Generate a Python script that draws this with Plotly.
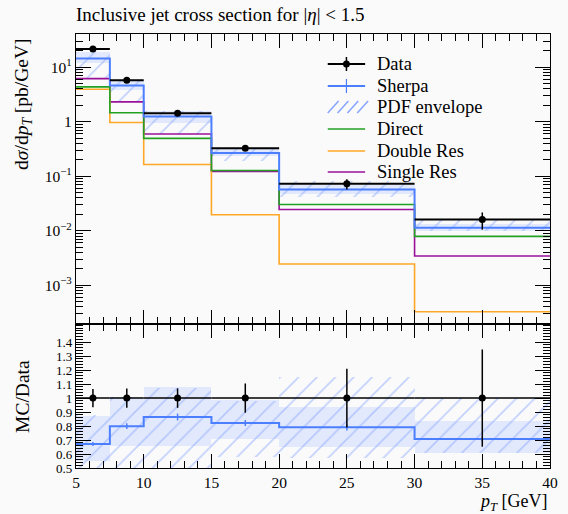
import plotly.graph_objects as go
import numpy as np

# ---------------- data ----------------
edges = [5, 7.5, 10, 15, 20, 30, 40]
data = [21.6, 5.78, 1.44, 0.325, 0.0726, 0.0161]
data_err = [1.40, 0.40, 0.10, 0.034, 0.0153, 0.0056]
sherpa = [14.5, 4.62, 1.245, 0.267, 0.0574, 0.0114]
sherpa_err = [0.30, 0.12, 0.035, 0.007, 0.0016, 0.0003]
band_lo = [11.9, 3.81, 0.950, 0.231, 0.0472, 0.00982]
band_hi = [18.8, 5.84, 1.555, 0.320, 0.0682, 0.01352]
pdf_lo = [6.48, 2.31, 0.590, 0.187, 0.0417, 0.00982]
pdf_hi = [19.0, 5.84, 1.548, 0.3185, 0.0835, 0.0161]
direct = [4.36, 1.46, 0.495, 0.128, 0.0304, 0.0079]
double_res = [3.96, 0.97, 0.164, 0.0197, 0.00246, 0.000327]
single_res = [6.19, 2.32, 0.596, 0.122, 0.0246, 0.00345]

legend_labels = ["Data", "Sherpa", "PDF envelope", "Direct", "Double Res", "Single Res"]

# ---------------- styles ----------------
C_DATA = "black"
C_SHERPA = "#4c7fff"
C_HATCH = "#86a4ff"
C_BAND = "#e2e9fc"
C_DIRECT = "#22a022"
C_DOUBLE = "#ffa726"
C_SINGLE = "#9a109a"
FONT = "Liberation Serif"
BG = "#fafafa"

e = np.array(edges, dtype=float)
centers = (e[:-1] + e[1:]) / 2
widths = e[1:] - e[:-1]
halfw = widths / 2
d = np.array(data)


def step_xy(vals):
    return list(edges), list(vals) + [vals[-1]]


fig = go.Figure()

# ---- top panel ----
fig.add_trace(go.Bar(x=centers, base=band_lo, y=np.array(band_hi) - np.array(band_lo), width=widths,
                     marker=dict(color=C_BAND, line=dict(width=0)), xaxis="x", yaxis="y",
                     showlegend=False, hoverinfo="skip"))
fig.add_trace(go.Bar(x=centers, base=pdf_lo, y=np.array(pdf_hi) - np.array(pdf_lo), width=widths,
                     marker=dict(color="rgba(0,0,0,0)", line=dict(width=0),
                                 pattern=dict(shape="/", fgcolor=C_HATCH, bgcolor="rgba(0,0,0,0)",
                                              size=13, solidity=0.12, fillmode="overlay")),
                     xaxis="x", yaxis="y", showlegend=False, hoverinfo="skip"))

for vals, col, w in [(single_res, C_SINGLE, 1.6), (double_res, C_DOUBLE, 1.6),
                     (direct, C_DIRECT, 1.6), (sherpa, C_SHERPA, 2.0)]:
    xs, ys = step_xy(vals)
    fig.add_trace(go.Scatter(x=xs, y=ys, mode="lines", line=dict(color=col, width=w, shape="hv"),
                             xaxis="x", yaxis="y", showlegend=False))

fig.add_trace(go.Scatter(x=centers, y=sherpa, mode="markers", marker=dict(size=1, color=C_SHERPA),
                         error_y=dict(type="data", array=sherpa_err, color=C_SHERPA, thickness=1.5, width=0),
                         xaxis="x", yaxis="y", showlegend=False))

fig.add_trace(go.Scatter(x=centers, y=data, mode="markers",
                         marker=dict(size=7, color=C_DATA),
                         error_x=dict(type="data", array=halfw, color=C_DATA, thickness=2, width=0),
                         error_y=dict(type="data", array=data_err, color=C_DATA, thickness=1.5, width=0),
                         xaxis="x", yaxis="y", showlegend=False))

# ---- ratio panel ----
r_band_lo = np.array(band_lo) / d
r_band_hi = np.array(band_hi) / d
r_pdf_lo = np.array(pdf_lo) / d
r_pdf_hi = np.array(pdf_hi) / d
r_sherpa = np.array(sherpa) / d

fig.add_trace(go.Bar(x=centers, base=r_band_lo, y=r_band_hi - r_band_lo, width=widths,
                     marker=dict(color=C_BAND, line=dict(width=0)), xaxis="x2", yaxis="y2",
                     showlegend=False, hoverinfo="skip"))
fig.add_trace(go.Bar(x=centers, base=r_pdf_lo, y=r_pdf_hi - r_pdf_lo, width=widths,
                     marker=dict(color="rgba(0,0,0,0)", line=dict(width=0),
                                 pattern=dict(shape="/", fgcolor=C_HATCH, bgcolor="rgba(0,0,0,0)",
                                              size=13, solidity=0.12, fillmode="overlay")),
                     xaxis="x2", yaxis="y2", showlegend=False, hoverinfo="skip"))
xs, ys = step_xy(list(r_sherpa))
fig.add_trace(go.Scatter(x=xs, y=ys, mode="lines", line=dict(color=C_SHERPA, width=2, shape="hv"),
                         xaxis="x2", yaxis="y2", showlegend=False))
fig.add_trace(go.Scatter(x=centers, y=r_sherpa, mode="markers", marker=dict(size=1, color=C_SHERPA),
                         error_y=dict(type="data", array=np.array(sherpa_err) / d, color=C_SHERPA,
                                      thickness=1.5, width=0),
                         xaxis="x2", yaxis="y2", showlegend=False))
fig.add_trace(go.Scatter(x=centers, y=d / d, mode="markers", marker=dict(size=7, color=C_DATA),
                         error_x=dict(type="data", array=halfw, color=C_DATA, thickness=1.5, width=0),
                         error_y=dict(type="data", array=np.array(data_err) / d, color=C_DATA,
                                      thickness=1.5, width=0),
                         xaxis="x2", yaxis="y2", showlegend=False))

# ---------------- layout ----------------
W, H = 568, 514
L, R, T, B = 76, 10, 34, 46
PW, PH = W - L - R, H - T - B
split = 144 / PH


def PX(x):
    return (x - L) / PW


def PY(y):
    return (H - B - y) / PH


tickfont = dict(family=FONT, size=15.5, color="black")
ratiotickfont = dict(family=FONT, size=13, color="black")
common_x = dict(range=[5, 40], ticks="inside", ticklen=14, tickwidth=1.2, tickcolor="black",
                dtick=5, tick0=5, showline=True, linecolor="black", linewidth=1.3, mirror="allticks",
                showgrid=False, zeroline=False,
                minor=dict(ticks="inside", ticklen=7, dtick=1, tickcolor="black", tickwidth=1, showgrid=False),
                tickfont=tickfont)

dec_vals = [1e-3, 1e-2, 1e-1, 1, 10]
dec_text = ["10<sup>−3</sup>", "10<sup>−2</sup>", "10<sup>−1</sup>", "1", "10<sup>1</sup>"]
minor_log = [k * 10.0 ** p for p in range(-4, 2) for k in range(2, 10)]

ratio_vals = [0.5, 0.6, 0.7, 0.8, 0.9, 1.0, 1.1, 1.2, 1.3, 1.4]
ratio_text = ["0.5", "0.6", "0.7", "0.8", "0.9", "1", "1.1", "1.2", "1.3", "1.4"]

fig.update_layout(
    width=W, height=H, margin=dict(l=L, r=R, t=T, b=B),
    paper_bgcolor=BG, plot_bgcolor=BG, barmode="overlay", bargap=0,
    font=dict(family=FONT, color="black"),
    xaxis=dict(domain=[0, 1], anchor="y", showticklabels=False, **common_x),
    yaxis=dict(domain=[split, 1], type="log", range=[-3.71, 1.61], anchor="x",
               tickmode="array", tickvals=dec_vals, ticktext=dec_text,
               ticks="inside", ticklen=15, tickwidth=1.2, tickcolor="black",
               showline=True, linecolor="black", linewidth=1.3, mirror="allticks",
               showgrid=False, zeroline=False, tickfont=tickfont,
               minor=dict(tickmode="array", tickvals=minor_log, ticks="inside", ticklen=7,
                          tickcolor="black", tickwidth=1, showgrid=False)),
    xaxis2=dict(domain=[0, 1], anchor="y2", showticklabels=True, **common_x),
    yaxis2=dict(domain=[0, split], range=[0.5, 1.53], anchor="x2",
                tickmode="array", tickvals=ratio_vals, ticktext=ratio_text,
                ticks="inside", ticklen=15, tickwidth=1.2, tickcolor="black",
                showline=True, linecolor="black", linewidth=1.3, mirror="allticks",
                showgrid=False, zeroline=False, tickfont=ratiotickfont,
                minor=dict(dtick=0.02, tick0=0.5, ticks="inside", ticklen=7,
                           tickcolor="black", tickwidth=1, showgrid=False)),
    title=dict(text="Inclusive jet cross section for |<i>η</i>| &lt; 1.5", x=PX(76), xref="paper",
               xanchor="left", y=1 - 14 / H, yref="container", yanchor="middle",
               font=dict(family=FONT, size=19, color="black")),
)

ann = []
ann.append(dict(text="d<i>σ</i>/d<i>p</i><sub><i>T</i></sub> [pb/GeV]", textangle=-90,
                x=PX(22), y=PY(36), xref="paper", yref="paper", xanchor="center", yanchor="top",
                showarrow=False, font=dict(family=FONT, size=19.5, color="black")))
ann.append(dict(text="MC/Data", textangle=-90, x=PX(21), y=PY(396), xref="paper", yref="paper",
                xanchor="center", yanchor="middle", showarrow=False,
                font=dict(family=FONT, size=19.5, color="black")))
ann.append(dict(text="<i>p</i><sub><i>T</i></sub> [GeV]", x=1, y=PY(502), xref="paper", yref="paper",
                xanchor="right", yanchor="middle", showarrow=False,
                font=dict(family=FONT, size=18, color="black")))

# legend (drawn manually)
leg_y = [64, 86, 107, 129, 151, 172]
lx0, lx1, lxm, ltx = 332, 370, 351, 380
shapes = []
for lab, yy in zip(legend_labels, leg_y):
    ann.append(dict(text=lab, x=PX(ltx), y=PY(yy), xref="paper", yref="paper", xanchor="left",
                    yanchor="middle", showarrow=False, font=dict(family=FONT, size=18.5, color="black")))

# Data
shapes.append(dict(type="line", xref="paper", yref="paper", x0=PX(lx0), x1=PX(lx1), y0=PY(leg_y[0]),
                   y1=PY(leg_y[0]), line=dict(color=C_DATA, width=2)))
shapes.append(dict(type="line", xref="paper", yref="paper", x0=PX(lxm), x1=PX(lxm), y0=PY(leg_y[0] - 7),
                   y1=PY(leg_y[0] + 7), line=dict(color=C_DATA, width=1.5)))
shapes.append(dict(type="circle", xref="paper", yref="paper", x0=PX(lxm - 3.5), x1=PX(lxm + 3.5),
                   y0=PY(leg_y[0] - 3.5), y1=PY(leg_y[0] + 3.5), fillcolor=C_DATA, line=dict(width=0)))
# Sherpa
shapes.append(dict(type="line", xref="paper", yref="paper", x0=PX(lx0), x1=PX(lx1), y0=PY(leg_y[1]),
                   y1=PY(leg_y[1]), line=dict(color=C_SHERPA, width=2)))
shapes.append(dict(type="line", xref="paper", yref="paper", x0=PX(lxm), x1=PX(lxm), y0=PY(leg_y[1] - 7),
                   y1=PY(leg_y[1] + 7), line=dict(color=C_SHERPA, width=1.2)))
# PDF envelope hatch glyph
for i in range(4):
    xb = lx0 + i * 10
    shapes.append(dict(type="line", xref="paper", yref="paper", x0=PX(xb), x1=PX(xb + 11),
                       y0=PY(leg_y[2] + 6), y1=PY(leg_y[2] - 6), line=dict(color=C_HATCH, width=1.5)))
# others
for col, yy in [(C_DIRECT, leg_y[3]), (C_DOUBLE, leg_y[4]), (C_SINGLE, leg_y[5])]:
    shapes.append(dict(type="line", xref="paper", yref="paper", x0=PX(lx0), x1=PX(lx1), y0=PY(yy),
                       y1=PY(yy), line=dict(color=col, width=1.6)))

fig.update_layout(annotations=ann, shapes=shapes)
fig.write_html("out.html", config={"displayModeBar": False},
               post_script="document.body.style.margin='0px';document.body.style.background='#fafafa';")
